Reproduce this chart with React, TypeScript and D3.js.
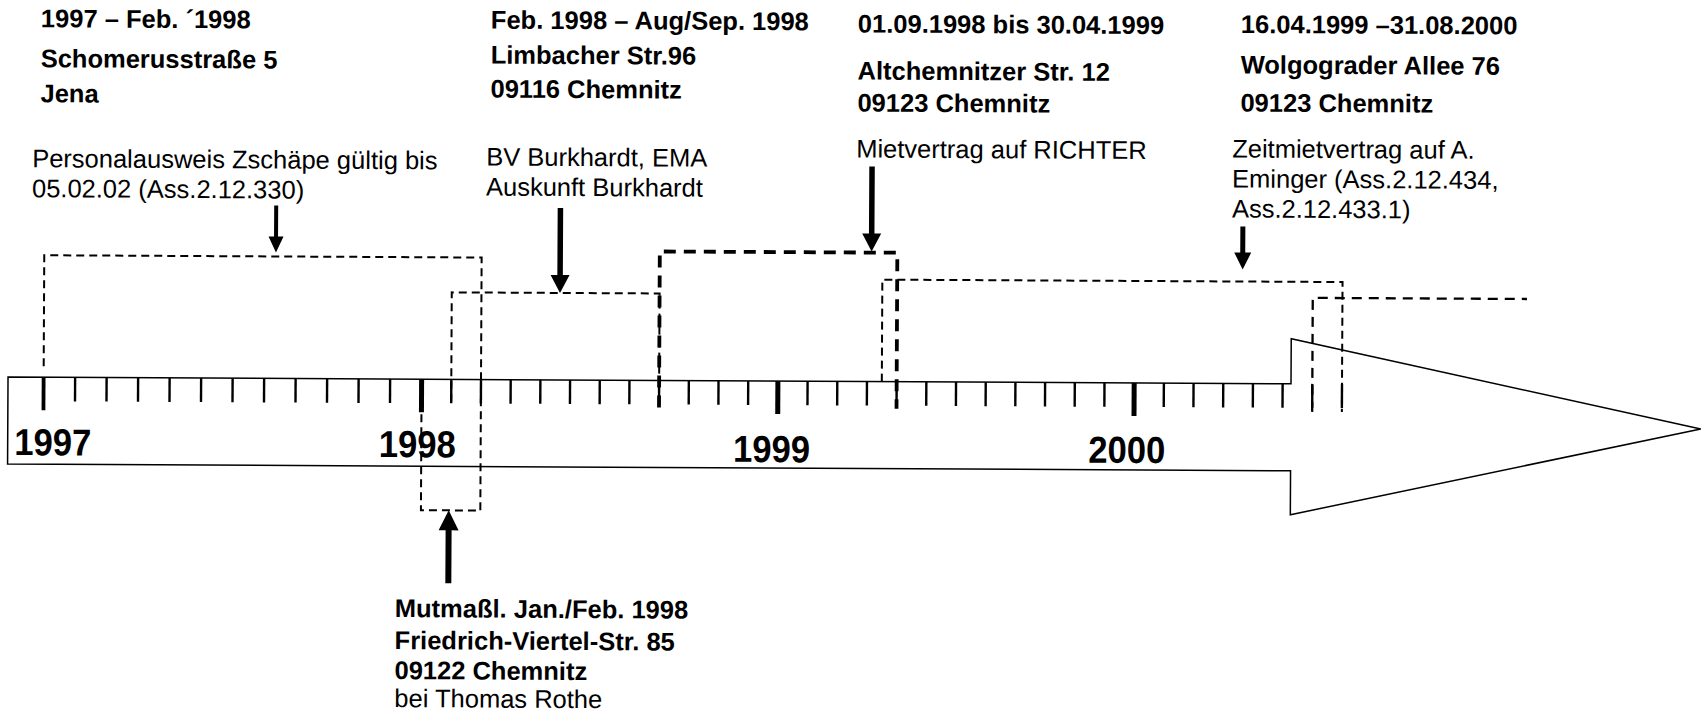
import * as d3 from 'd3';

// ─── Data ─────────────────────────────────────────────────────
const axisStart = '1997-01-01';
const axisEnd = '2000-08-01';
const yearLabels = ['1997', '1998', '1999', '2000'];

// periods drawn as dashed brackets
const stayFrom = ['1997-01-01', '1998-01-01', '1998-02-01', '1998-09-01', '1999-04-16', '2000-07-01'];
const stayTo = ['1998-03-01', '1998-03-01', '1998-09-01', '1999-05-01', '2000-08-01', '2001-02-07'];

// where the black arrows hit the brackets
const pointerDates = ['1997-08-12', '1998-05-21', '1999-04-05', '2000-04-20', '1998-01-30'];

const headers = [
  ['1997 – Feb. ´1998', 'Schomerusstraße 5', 'Jena'],
  ['Feb. 1998 – Aug/Sep. 1998', 'Limbacher Str.96', '09116 Chemnitz'],
  ['01.09.1998 bis 30.04.1999', 'Altchemnitzer Str. 12', '09123 Chemnitz'],
  ['16.04.1999 –31.08.2000', 'Wolgograder Allee 76', '09123 Chemnitz'],
  ['Mutmaßl. Jan./Feb. 1998', 'Friedrich-Viertel-Str. 85', '09122 Chemnitz'],
];
const notes = [
  ['Personalausweis Zschäpe gültig bis', '05.02.02 (Ass.2.12.330)'],
  ['BV Burkhardt, EMA', 'Auskunft Burkhardt'],
  ['Mietvertrag auf RICHTER'],
  ['Zeitmietvertrag auf A.', 'Eminger (Ass.2.12.434,', 'Ass.2.12.433.1)'],
  ['bei Thomas Rothe'],
];

// ─── Layout ───────────────────────────────────────────────────
const W = 1703;
const H = 714;
const FONT = 'Liberation Sans, Arial, sans-serif';
const bodyLeft = 10;
const bodyTop = 377;
const bodyBottom = 464;
const notchX = 1293;
const headTop = 332;
const headBottom = 508;
const tipY = 420;

const yearDx = [9.5, -4, -6, -7];
const yearY = [455, 455, 458, 457];

const headerX = [41, 491, 858, 1241, 398];
const headerY = [
  [27, 67, 102],
  [26, 61, 95],
  [28, 75, 107],
  [26.5, 67, 105],
  [615, 647, 677],
];
const noteX = [33, 487, 857, 1233, 398];
const noteY = [[167, 197], [163, 193], [153], [151, 181, 211], [705]];

function monthIdx(s: string): number {
  const [y, m, d] = s.split('-').map(Number);
  const dim = new Date(y, m, 0).getDate();
  return (y - 1997) * 12 + (m - 1) + (d - 1) / dim;
}

export default function App() {
  const x = d3
    .scaleLinear()
    .domain([monthIdx(axisStart), monthIdx('1998-01-01'), monthIdx(axisEnd)])
    .range([45.6, 423.6, 1344]);

  const ticks = d3.range(monthIdx(axisStart), monthIdx(axisEnd) + 1);
  const xs = (i: number) => x(monthIdx(stayFrom[i]));
  const xe = (i: number) => x(monthIdx(stayTo[i]));

  const bodyPath = [
    [bodyLeft, bodyTop], [notchX, bodyTop], [notchX, headTop], [W, tipY],
    [notchX, headBottom], [notchX, bodyBottom], [bodyLeft, bodyBottom],
  ];

  // dashed brackets
  const thin = '8,5';
  const brackets = [
    { d: `M${xs(0)},366 V255 H${xe(0)} V508`, w: 2, dash: thin },
    { d: `M${xs(1)},412 V508 H${xe(1)}`, w: 2, dash: thin },
    { d: `M${xs(2)},400 V290 H${xe(2)} V377`, w: 2, dash: thin },
    { d: `M${xs(3)},404 V248 H${xe(3)} V404`, w: 3.8, dash: '12,8' },
    { d: `M${xs(4)},377 V275 H${xe(4)} V405`, w: 2, dash: thin },
    { d: `M${xs(5)},405 V291 H${xe(5)}`, w: 2.3, dash: '10,7' },
  ];

  const pointers = [
    { top: 204, tip: 251, shaft: 4, head: 15, len: 16 },
    { top: 205, tip: 290, shaft: 5.5, head: 19, len: 18 },
    { top: 162, tip: 247, shaft: 5.5, head: 19, len: 18 },
    { top: 220, tip: 263, shaft: 5, head: 17, len: 17 },
    { top: 581, tip: 508, shaft: 6, head: 20, len: 20 },
  ];

  const arrowPath = (cx: number, p: typeof pointers[0]) => {
    const dir = p.tip > p.top ? 1 : -1;
    const base = p.tip - dir * p.len;
    const s = p.shaft / 2;
    const h = p.head / 2;
    return `M${cx - s},${p.top} L${cx + s},${p.top} L${cx + s},${base} L${cx + h},${base} L${cx},${p.tip} L${cx - h},${base} L${cx - s},${base} Z`;
  };

  return (
    <div style={{ position: 'absolute', left: 0, top: 0, background: '#fff' }}>
      <svg width={W} height={H} style={{ display: 'block' }}>
        <rect width={W} height={H} fill="#fff" />
        <g transform="rotate(0.3)">
          {/* timeline arrow */}
          <path
            d={d3.line()(bodyPath as [number, number][]) + 'Z'}
            fill="#fff"
            stroke="#000"
            strokeWidth={1.5}
          />

          {/* month ticks */}
          {ticks.map((t) => {
            const major = t % 12 === 0;
            return (
              <line
                key={t}
                x1={x(t)}
                x2={x(t)}
                y1={bodyTop}
                y2={major ? bodyTop + 33 : bodyTop + 24}
                stroke="#000"
                strokeWidth={major ? (t === 0 ? 3.8 : 5) : 2.4}
              />
            );
          })}

          {/* year labels */}
          {yearLabels.map((yl, i) => (
            <text
              key={yl}
              x={x(i * 12) + yearDx[i]}
              y={yearY[i]}
              textAnchor="middle"
              fontFamily={FONT}
              fontWeight="bold"
              fontSize={37.5}
              textLength={77}
              lengthAdjust="spacingAndGlyphs"
            >
              {yl}
            </text>
          ))}

          {/* brackets */}
          {brackets.map((b, i) => (
            <path
              key={i}
              d={b.d}
              fill="none"
              stroke="#000"
              strokeWidth={b.w}
              strokeDasharray={b.dash}
            />
          ))}

          {/* pointer arrows */}
          {pointers.map((p, i) => (
            <path key={i} d={arrowPath(x(monthIdx(pointerDates[i])), p)} fill="#000" />
          ))}

          {/* header texts */}
          {headers.map((lines, i) =>
            lines.map((t, j) => (
              <text
                key={`h${i}-${j}`}
                x={headerX[i]}
                y={headerY[i][j]}
                fontFamily={FONT}
                fontWeight="bold"
                fontSize={25.5}
              >
                {t}
              </text>
            ))
          )}

          {/* notes */}
          {notes.map((lines, i) =>
            lines.map((t, j) => (
              <text
                key={`n${i}-${j}`}
                x={noteX[i]}
                y={noteY[i][j]}
                fontFamily={FONT}
                fontSize={25.5}
              >
                {t}
              </text>
            ))
          )}
        </g>
      </svg>
    </div>
  );
}
